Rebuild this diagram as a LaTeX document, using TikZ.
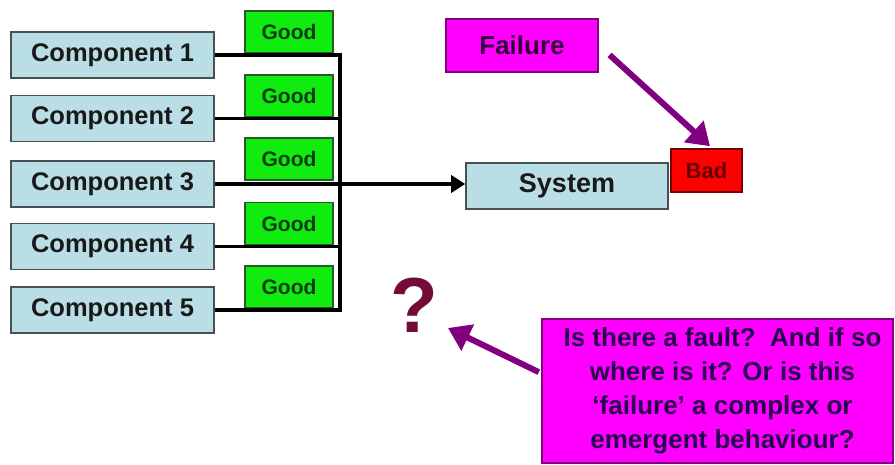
\documentclass[tikz,border=0pt]{standalone}
\usepackage{fontspec}
\setmainfont{Liberation Sans}
\usetikzlibrary{arrows.meta}
\definecolor{compfill}{RGB}{186,222,230}
\definecolor{compline}{RGB}{70,80,85}
\definecolor{goodfill}{RGB}{16,235,16}
\definecolor{goodline}{RGB}{40,90,40}
\definecolor{goodtext}{RGB}{12,60,12}
\definecolor{magfill}{RGB}{255,0,255}
\definecolor{purpline}{RGB}{128,0,128}
\definecolor{purptext}{RGB}{50,0,60}
\definecolor{qtext}{RGB}{40,0,80}
\definecolor{badfill}{RGB}{255,0,0}
\definecolor{badline}{RGB}{120,0,0}
\definecolor{badtext}{RGB}{100,0,0}
\definecolor{qmark}{RGB}{115,12,55}
\tikzset{
  compbox/.style={draw=compline, line width=1.6pt, fill=compfill, minimum width=203pt,
    minimum height=46pt, inner sep=0pt, font=\fontsize{25.5}{30}\selectfont\bfseries, text=black!90},
  goodbox/.style={draw=goodline, line width=1.4pt, fill=goodfill, minimum width=88pt,
    minimum height=42pt, inner sep=0pt, font=\fontsize{21}{25}\selectfont\bfseries, text=goodtext},
  wire/.style={line width=3.2pt, black},
  fatarrow/.style={line width=6pt, purpline, -{Triangle[length=22pt,width=28pt]}},
}
\begin{document}
\begin{tikzpicture}[x=1pt, y=-1pt]
  \useasboundingbox[fill=white] (0,0) rectangle (895,464);

  % status flags above each component wire
  \node[goodbox] (g1) at (289,32) {Good};
  \node[goodbox] (g2) at (289,96) {Good};
  \node[goodbox] (g3) at (289,159) {Good};
  \node[goodbox] (g4) at (289,223.5) {Good};
  \node[goodbox] (g5) at (289,287) {Good};

  % components
  \node[compbox] (c1) at (112.5,55) {Component 1};
  \node[compbox] (c2) at (112.5,118.5) {Component 2};
  \node[compbox] (c3) at (112.5,184) {Component 3};
  \node[compbox] (c4) at (112.5,246.5) {Component 4};
  \node[compbox] (c5) at (112.5,310) {Component 5};

  % system and its state
  \node[compbox, minimum width=202pt, font=\fontsize{27}{32}\selectfont\bfseries] (sys) at (567,186) {System};
  \node[draw=badline, line width=1.6pt, fill=badfill, minimum width=71pt, minimum height=43pt,
    inner sep=0pt, font=\fontsize{22}{26}\selectfont\bfseries, text=badtext] (bad) at (706.5,170.5) {Bad};

  % failure label
  \node[draw=purpline, line width=2.4pt, fill=magfill, minimum width=152pt, minimum height=53pt,
    inner sep=0pt, font=\fontsize{26}{30}\selectfont\bfseries, text=purptext] (fail) at (522,45.5) {Failure};

  % question callout
  \node[draw=purpline, line width=2.8pt, fill=magfill, minimum width=351pt, minimum height=144pt,
    inner sep=0pt, align=center, font=\fontsize{26}{34}\selectfont\bfseries, text=qtext] (q) at (717.5,391)
    {\hspace*{10pt}Is there a fault?\ \ And if so\\\hspace*{10pt}where is it? Or is this\\\hspace*{10pt}‘failure’ a complex or\\\hspace*{10pt}emergent behaviour?};

  \node[font=\fontsize{78}{80}\selectfont\bfseries, text=qmark, inner sep=0pt] (qm) at (414,305) {?};

  % bus wiring
  \coordinate (bustop) at (340,55);
  \coordinate (busbot) at (340,310);
  \draw[wire] (c1.east) -- (bustop) -- (busbot) -- (c5.east);
  \draw[wire] (c2.east) -- (c2.east -| bustop);
  \draw[wire] (c4.east) -- (c4.east -| bustop);
  \draw[wire, -{Triangle[length=14pt,width=17pt]}] (c3.east) -- (c3.east -| sys.west);

  % pointer arrows
  \draw[fatarrow, shorten <=14pt] (fail.east) -- ([xshift=3.5pt,yshift=2pt]bad.north);
  \coordinate (qa) at ([yshift=18pt]q.west);
  \coordinate (qtip) at (448,328);
  \draw[fatarrow, shorten <=2pt] (qa) -- (qtip);
\end{tikzpicture}
\end{document}
